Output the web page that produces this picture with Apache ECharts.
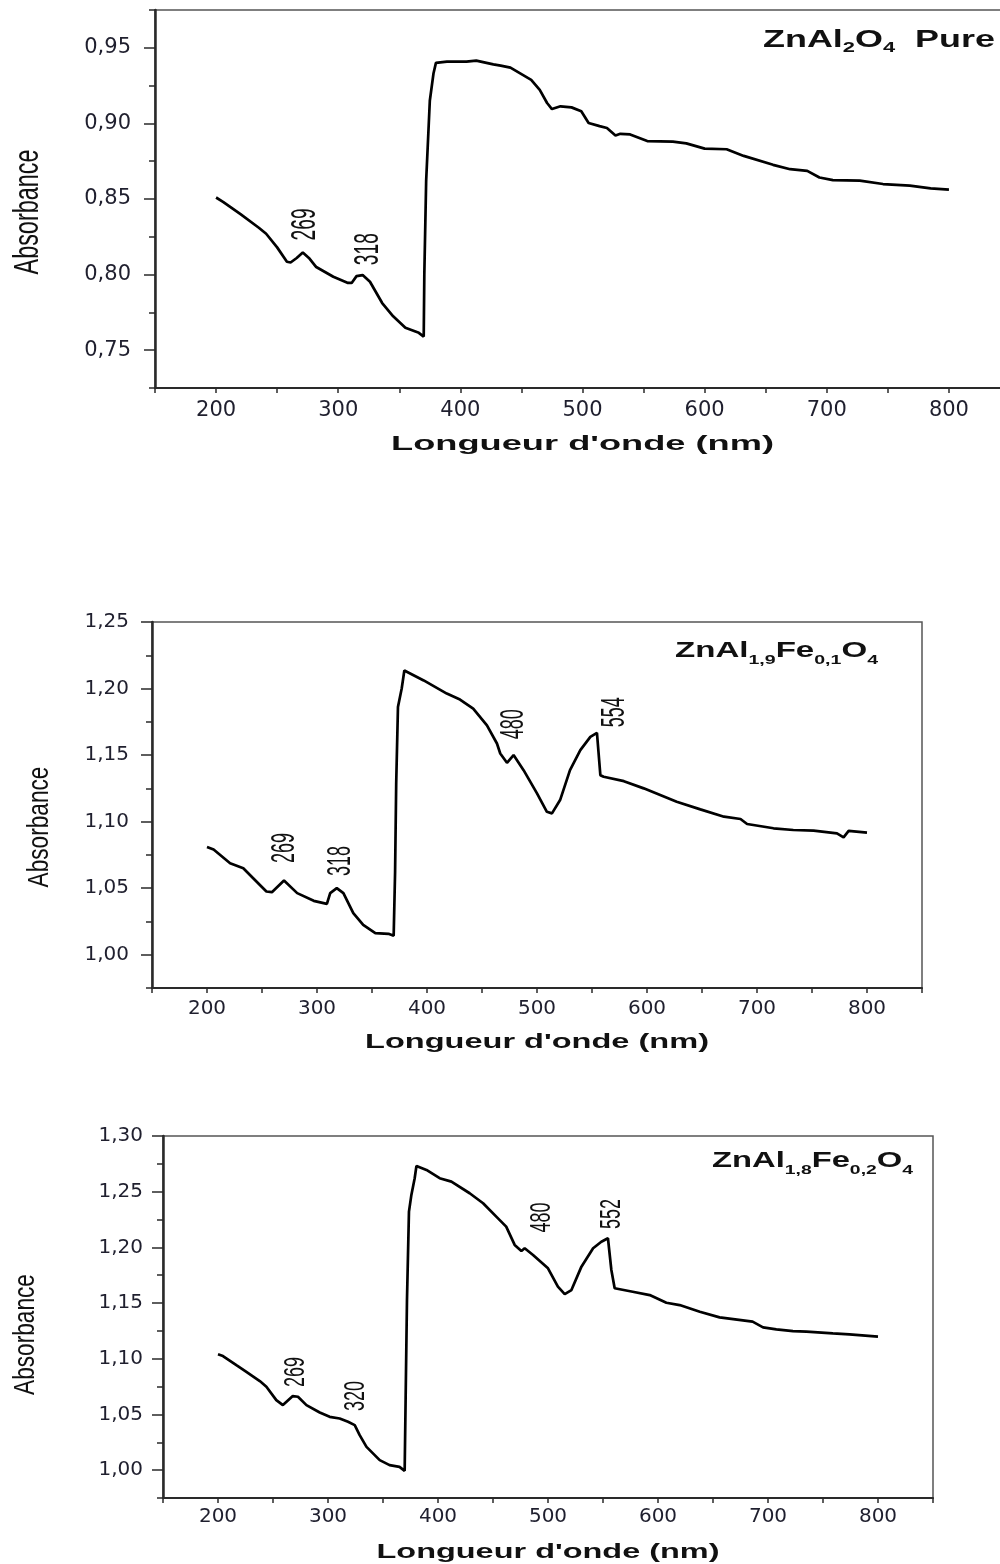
<!DOCTYPE html>
<html><head><meta charset="utf-8">
<script src="https://cdn.jsdelivr.net/npm/echarts@6/dist/echarts.min.js"></script>
<style>html,body{margin:0;padding:0;background:#fff}#c{width:1000px;height:1564px}</style>
</head><body><div id="c"></div>
<script>
// ---------- DATA ----------
const xTicks = [200, 300, 400, 500, 600, 700, 800];

const titles = ['ZnAl2O4 Pure', 'ZnAl1,9Fe0,1O4', 'ZnAl1,8Fe0,2O4'];

// Panel 1 : ZnAl2O4 pure
const wl1 = [200,206,220,235,241,250,258,261,266,271,276,282,296,308,311,315,320,326,336,345,355,366,370,370.5,372,375,378,380,389,405,413,427,433,441,458,465,471,475,482,491,499,505,514,520,527,531,539,553,574,585,600,618,632,656,670,684,694,705,727,746,768,785,800];
const abs1 = [0.851,0.848,0.840,0.831,0.827,0.818,0.8085,0.808,0.811,0.8146,0.811,0.805,0.7986,0.7945,0.7945,0.799,0.7997,0.7953,0.7812,0.7724,0.7648,0.7615,0.759,0.80,0.862,0.915,0.933,0.940,0.9408,0.9408,0.9415,0.939,0.9382,0.9369,0.9288,0.9222,0.9135,0.9095,0.9113,0.9106,0.908,0.9003,0.8982,0.897,0.892,0.8931,0.8927,0.8883,0.8879,0.8868,0.8833,0.8829,0.8785,0.8726,0.8697,0.8686,0.8642,0.8625,0.8621,0.8599,0.8588,0.857,0.8562];
const yTicks1 = [0.75, 0.80, 0.85, 0.90, 0.95];
const yMinor1 = [0.725, 0.775, 0.825, 0.875, 0.925, 0.975];
const peakLabels1 = ['269', '318'];
const peakX1 = [272.8, 324.4];
const peakY1 = [0.8332, 0.8168];

// Panel 2 : ZnAl1,9Fe0,1O4
const wl2 = [200,206,221,233,242,254,259,270,282,297,309,312,318,324,333,342,353,365,369.7,371,372,373.6,377,379.4,397,418,430,442,454.5,463.6,466.6,472.7,478.7,487.8,500,509,513.6,521,530,539.4,548.5,554.5,557.6,560.6,579,597,612,627,648.5,670,685,691,715,733,751.5,772.7,778.7,783.3,800];
const abs2 = [1.081,1.079,1.0687,1.065,1.0575,1.0475,1.047,1.0557,1.0463,1.0405,1.0382,1.0463,1.050,1.0463,1.0313,1.0225,1.0163,1.0157,1.0142,1.0625,1.1287,1.1861,1.200,1.2136,1.2061,1.1962,1.1917,1.1849,1.1724,1.1587,1.1512,1.1442,1.150,1.1387,1.1212,1.1074,1.1062,1.1162,1.1387,1.1537,1.1637,1.1667,1.1349,1.1337,1.1304,1.125,1.120,1.115,1.1092,1.1037,1.102,1.0982,1.095,1.0937,1.0932,1.0912,1.0882,1.093,1.0917];
const yTicks2 = [1.00, 1.05, 1.10, 1.15, 1.20, 1.25];
const yMinor2 = [0.975, 1.025, 1.075, 1.125, 1.175, 1.225];
const peakLabels2 = ['269', '318', '480', '554'];
const peakX2 = [271.2, 322.1, 478.9, 571.2];
const peakY2 = [1.0802, 1.0705, 1.1732, 1.1822];

// Panel 3 : ZnAl1,8Fe0,2O4
const wl3 = [200,204.5,216.7,225.8,238,244,253,259,268,272.7,280.4,292.5,301.5,310.6,318.2,324.3,328.8,335,347,356,365,369.7,370.6,371.8,373.6,375.8,378.8,380.4,389.5,401.5,412.2,428.8,441,455,462,469.7,475.8,478.8,486.4,500,509,515.2,521.3,530.4,541,548.5,554.5,557.6,560.6,577,592.5,607.6,619.7,638,656,686,695.5,707.6,722.7,735,759,774,800];
const abs3 = [1.104,1.1024,1.0943,1.0883,1.080,1.0749,1.0629,1.0584,1.0665,1.0659,1.0584,1.0518,1.0479,1.0464,1.0434,1.0404,1.0314,1.0209,1.009,1.0045,1.003,0.9994,1.0659,1.1527,1.2321,1.2471,1.2621,1.2731,1.2695,1.2621,1.259,1.2486,1.2396,1.2256,1.2186,1.2022,1.1968,1.1992,1.1932,1.1812,1.1647,1.1581,1.1617,1.1827,1.1992,1.2051,1.2082,1.1797,1.1633,1.1602,1.1572,1.1503,1.1482,1.1422,1.1372,1.1333,1.1282,1.1264,1.1249,1.1243,1.1228,1.1219,1.1198];
const yTicks3 = [1.00, 1.05, 1.10, 1.15, 1.20, 1.25, 1.30];
const yMinor3 = [0.975, 1.025, 1.075, 1.125, 1.175, 1.225, 1.275];
const peakLabels3 = ['269', '320', '480', '552'];
const peakX3 = [270.6, 325.6, 494.7, 557.5];
const peakY3 = [1.0881, 1.0665, 1.2269, 1.23];

const xName = "Longueur d'onde (nm)";
const yName = 'Absorbance';

// ---------- LAYOUT / STYLE ----------
const FAM = '"Liberation Sans", Arial, sans-serif';
const TICKFAM = '"DejaVu Sans", Verdana, sans-serif';
const panels = [
  { wl: wl1, ab: abs1, yT: yTicks1, yM: yMinor1, pl: peakLabels1, px: peakX1, py: peakY1,
    grid: {left: 155, top: 10, width: 855, height: 378},
    yMin: 0.725, yMax: 0.975, labMarginY: 24, labMarginX: 12, tickFont: 21,
    formula: [{t:'ZnAl'},{t:'2',sub:1},{t:'O'},{t:'4',sub:1},{t:'  Pure'}],
    fLeft: 763, fCy: 40.5, fW: 232, fMain: 23, fSub: 14, fDy: 8,
    absC: [28.5, 212], absL: 125, absT: 25,
    xnDy: 56, xnW: 383, pkL: 32, pkT: 26 },
  { wl: wl2, ab: abs2, yT: yTicks2, yM: yMinor2, pl: peakLabels2, px: peakX2, py: peakY2,
    grid: {left: 152, top: 622, width: 770, height: 366},
    yMin: 0.975, yMax: 1.25, labMarginY: 23, labMarginX: 11, tickFont: 20,
    formula: [{t:'ZnAl'},{t:'1,9',sub:1},{t:'Fe'},{t:'0,1',sub:1},{t:'O'},{t:'4',sub:1}],
    fLeft: 675, fCy: 651.3, fW: 203, fMain: 22, fSub: 13, fDy: 9.5,
    absC: [40, 827], absL: 121, absT: 22,
    xnDy: 54, xnW: 344, pkL: 30, pkT: 24 },
  { wl: wl3, ab: abs3, yT: yTicks3, yM: yMinor3, pl: peakLabels3, px: peakX3, py: peakY3,
    grid: {left: 163, top: 1136, width: 770, height: 362},
    yMin: 0.975, yMax: 1.30, labMarginY: 20, labMarginX: 9, tickFont: 20,
    formula: [{t:'ZnAl'},{t:'1,8',sub:1},{t:'Fe'},{t:'0,2',sub:1},{t:'O'},{t:'4',sub:1}],
    fLeft: 712, fCy: 1160.5, fW: 201, fMain: 22, fSub: 13, fDy: 10,
    absC: [26.5, 1334.5], absL: 121, absT: 21,
    xnDy: 54, xnW: 343, pkL: 30, pkT: 22 }
];

const chart = echarts.init(document.getElementById('c'), null, {renderer: 'canvas'});
const grids = [], xAxes = [], yAxes = [], series = [];
const axisCol = '#2a2a2a';
panels.forEach((p, i) => {
  grids.push(Object.assign({show: true, borderColor: '#555', borderWidth: 1.5, containLabel: false, outerBoundsMode: 'none'}, p.grid));
  xAxes.push({
    gridIndex: i, type: 'value', min: 150, max: 850, interval: 50,
    axisLine: {show: true, onZero: false, lineStyle: {color: axisCol, width: 2}},
    axisTick: {show: true, length: 5, lineStyle: {color: axisCol, width: 1.5}},
    axisLabel: {customValues: xTicks, margin: p.labMarginX, fontFamily: TICKFAM, fontSize: p.tickFont, color: '#1f1f2e'},
    splitLine: {show: false}
  });
  yAxes.push({
    gridIndex: i, type: 'value', position: 'left', min: p.yMin, max: p.yMax, interval: 0.025,
    axisLine: {show: true, onZero: false, lineStyle: {color: axisCol, width: 2.5}},
    axisTick: {show: true, length: 11, customValues: p.yT, lineStyle: {color: axisCol, width: 1.5}},
    axisLabel: {customValues: p.yT, margin: p.labMarginY, fontFamily: TICKFAM, fontSize: p.tickFont, color: '#1f1f2e',
      formatter: v => v.toFixed(2).replace('.', ',')},
    splitLine: {show: false}
  });
  yAxes.push({
    gridIndex: i, type: 'value', position: 'left', offset: 0, min: p.yMin, max: p.yMax, interval: 0.025,
    axisLine: {show: false},
    axisTick: {show: true, length: 6, customValues: p.yM, lineStyle: {color: axisCol, width: 1.5}},
    axisLabel: {show: false},
    splitLine: {show: false}
  });
  series.push({
    type: 'line', xAxisIndex: i, yAxisIndex: 2 * i, showSymbol: false, symbol: 'none',
    data: p.wl.map((w, k) => [w, p.ab[k]]),
    lineStyle: {color: '#000', width: 2.7}, silent: true
  });
});

chart.setOption({animation: false, backgroundColor: '#fff', grid: grids, xAxis: xAxes, yAxis: yAxes, series: series});

// ---------- TEXT ANNOTATIONS ----------
const mctx = document.createElement('canvas').getContext('2d');
function textW(t, font) { mctx.font = font; return mctx.measureText(t).width; }
function st(t, font, align) {
  return {text: t, font: font, fill: '#111', align: align, verticalAlign: 'middle', textAlign: align, textVerticalAlign: 'middle'};
}
function vtext(t, cx, cy, length, thick, weight) {
  const unit = textW(t, weight + ' 100px ' + FAM) / 100;
  const size = length / unit;
  return {type: 'text', x: cx, y: cy, rotation: Math.PI / 2, scaleY: thick / (0.73 * size), silent: true,
    style: st(t, weight + ' ' + size.toFixed(2) + 'px ' + FAM, 'center')};
}
function htext(t, cx, cy, width, size, weight) {
  const font = weight + ' ' + size + 'px ' + FAM;
  return {type: 'text', x: cx, y: cy, scaleX: width / textW(t, font), silent: true, style: st(t, font, 'center')};
}
function formula(p) {
  let x = 0; const kids = [];
  p.formula.forEach(f => {
    const font = 'bold ' + (f.sub ? p.fSub : p.fMain) + 'px ' + FAM;
    kids.push({type: 'text', x: x, y: f.sub ? p.fDy : 0, silent: true, style: st(f.t, font, 'left')});
    x += textW(f.t, font);
  });
  return {type: 'group', x: p.fLeft, y: p.fCy, scaleX: p.fW / x, children: kids};
}

const graphics = [];
panels.forEach((p, i) => {
  const finder = {xAxisIndex: i, yAxisIndex: 2 * i};
  const base = chart.convertToPixel(finder, [500, p.yMin]);
  graphics.push(htext(xName, base[0], base[1] + p.xnDy, p.xnW, 21, 'bold'));
  graphics.push(vtext(yName, p.absC[0], p.absC[1], p.absL, p.absT, 'normal'));
  graphics.push(formula(p));
  p.pl.forEach((lab, k) => {
    const pt = chart.convertToPixel(finder, [p.px[k], p.py[k]]);
    graphics.push(vtext(lab, pt[0], pt[1], p.pkL, p.pkT, 'normal'));
  });
});
chart.setOption({graphic: graphics});
</script>
</body></html>
